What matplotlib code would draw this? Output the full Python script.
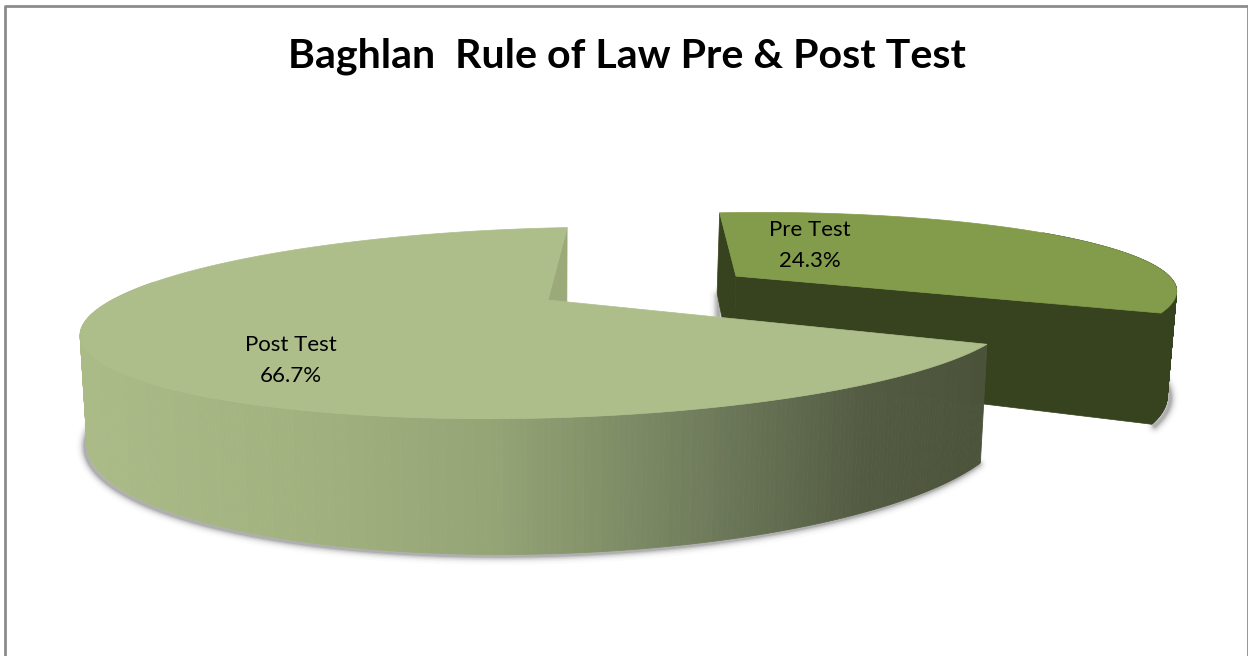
import numpy as np
import matplotlib
matplotlib.use('Agg')
import matplotlib.pyplot as plt
from matplotlib.colors import LinearSegmentedColormap

categories = ['Pre Test', 'Post Test']
pct_labels = ['24.3%', '66.7%']
# the drawn slices fill the whole circle, so the pre slice is wider than its label says
shares = [33.3, 66.7]

title = 'Baghlan  Rule of Law Pre & Post Test'

first_angle = 3  # clockwise from the back of the pie
pre_span = shares[0] * 3.6
post_span = shares[1] * 3.6

# perspective of the pie, in pixels of the figure
CX, CY = 548, 300
R, S, T, K = 454, 89.4, 12, 0.242
H = 103
EXPLODE = 0.49
PRE_SCALE = 0.97


def project(u, v, z=0.0):
    w = 1 + K * v
    x = CX + R * u / w
    y = CY - (S * v + T * u) / w
    if z:
        x = CX + (x - CX) * 0.985
        y = y + z / w
    return x, y


def slice_points(a1, a2, ex=0.0, ey=0.0, z=0.0, n=200, scale=1.0):
    t = np.radians(np.linspace(a1, a2, n))
    return project(scale * np.sin(t) + ex, scale * np.cos(t) + ey, z)


def cut_wall(ax, angle, ex, ey, color, scale=1.0):
    t = np.radians(angle)
    u, v = scale * np.sin(t) + ex, scale * np.cos(t) + ey
    pts = [project(ex, ey), project(u, v), project(u, v, H), project(ex, ey, H)]
    ax.fill(*zip(*pts), color=color, lw=0.5, zorder=3)


def side_wall(ax, a1, a2, ex, ey, color_of, scale=1.0):
    edges = np.linspace(a1, a2, 300)
    for b1, b2 in zip(edges[:-1], edges[1:]):
        xt, yt = slice_points(b1, b2, ex, ey, n=2, scale=scale)
        xb, yb = slice_points(b1, b2, ex, ey, z=H, n=2, scale=scale)
        ax.fill([xt[0], xt[1], xb[1], xb[0]], [yt[0], yt[1], yb[1], yb[0]],
                color=color_of(xt[0]), lw=0.6, zorder=3)


def shadow(ax, x, y, dx=-2, dy=1.5):
    for lw, a in zip([13, 10, 8, 6, 4, 2.5], [0.025, 0.04, 0.06, 0.1, 0.15, 0.2]):
        ax.plot(x + dx, y + dy, color='#555555', lw=lw, alpha=a, zorder=2,
                solid_capstyle='round')


fig = plt.figure(figsize=(12.48, 6.56), dpi=100)
ax = fig.add_axes([0, 0, 1, 1])
ax.set_xlim(0, 1248)
ax.set_ylim(656, 0)
ax.axis('off')

# frame, open at the bottom
ax.plot([5, 5, 1247.5], [656, 5.5, 5.5], color='#8C8C8C', lw=2, zorder=1)
ax.plot([1247.5, 1247.5], [5.5, 656], color='#8C8C8C', lw=2, zorder=1)

# pre test slice, pulled out along its middle
mid = np.radians(first_angle + pre_span / 2)
ex, ey = EXPLODE * np.sin(mid), EXPLODE * np.cos(mid)
a1, a2 = first_angle, first_angle + pre_span

x, y = slice_points(85, a2, ex, ey, z=H, scale=PRE_SCALE)
shadow(ax, x, y, dx=3, dy=1.5)
x0, y0 = project(PRE_SCALE * np.sin(np.radians(a1)) + ex, PRE_SCALE * np.cos(np.radians(a1)) + ey, H)
shadow(ax, np.array([x0, x0]), np.array([y0 + 3, y0 + 22]), dx=1, dy=0)

cut_wall(ax, a1, ex, ey, '#37421E', PRE_SCALE)
cut_wall(ax, a2, ex, ey, '#37421E', PRE_SCALE)
side_wall(ax, 60, a2, ex, ey, lambda px: '#37421E', PRE_SCALE)
x, y = slice_points(a1, a2, ex, ey, scale=PRE_SCALE)
ox, oy = project(ex, ey)
ax.fill(np.r_[ox, x], np.r_[oy, y], color='#839C4B', lw=0.5, zorder=4)

# post test slice
p1, p2 = a2, a2 + post_span
x, y = slice_points(p1, 290, z=H)
shadow(ax, x, y)

ramp = LinearSegmentedColormap.from_list(
    'side', [(0, '#AABB87'), (0.22, '#A3B380'), (0.46, '#94A475'), (0.6, '#7F8D66'),
             (0.74, '#687356'), (0.87, '#535C42'), (1, '#4B543A')])
side_wall(ax, p1, 290, 0, 0, lambda px: ramp((px - 85) / (985 - 85)))
cut_wall(ax, p2, 0, 0, '#9BAA78')
x, y = slice_points(p1, p2)
ox, oy = project(0, 0)
ax.fill(np.r_[ox, x], np.r_[oy, y], color='#AEBE8B', lw=0.5, zorder=5)

# texts
plt.rcParams['font.family'] = ['Lato', 'DejaVu Sans']
ax.text(627, 56, title, ha='center', va='center', fontsize=29.6, fontweight='bold',
        color='black', zorder=6)
label_xy = [(810, 230, 261), (291, 345, 376)]
for name, pct, (lx, ly1, ly2) in zip(categories, pct_labels, label_xy):
    ax.text(lx, ly1, name, ha='center', va='center', fontsize=16, color='black', zorder=6)
    ax.text(lx, ly2, pct, ha='center', va='center', fontsize=16, color='black', zorder=6)

fig.savefig('out.png', dpi=100)
